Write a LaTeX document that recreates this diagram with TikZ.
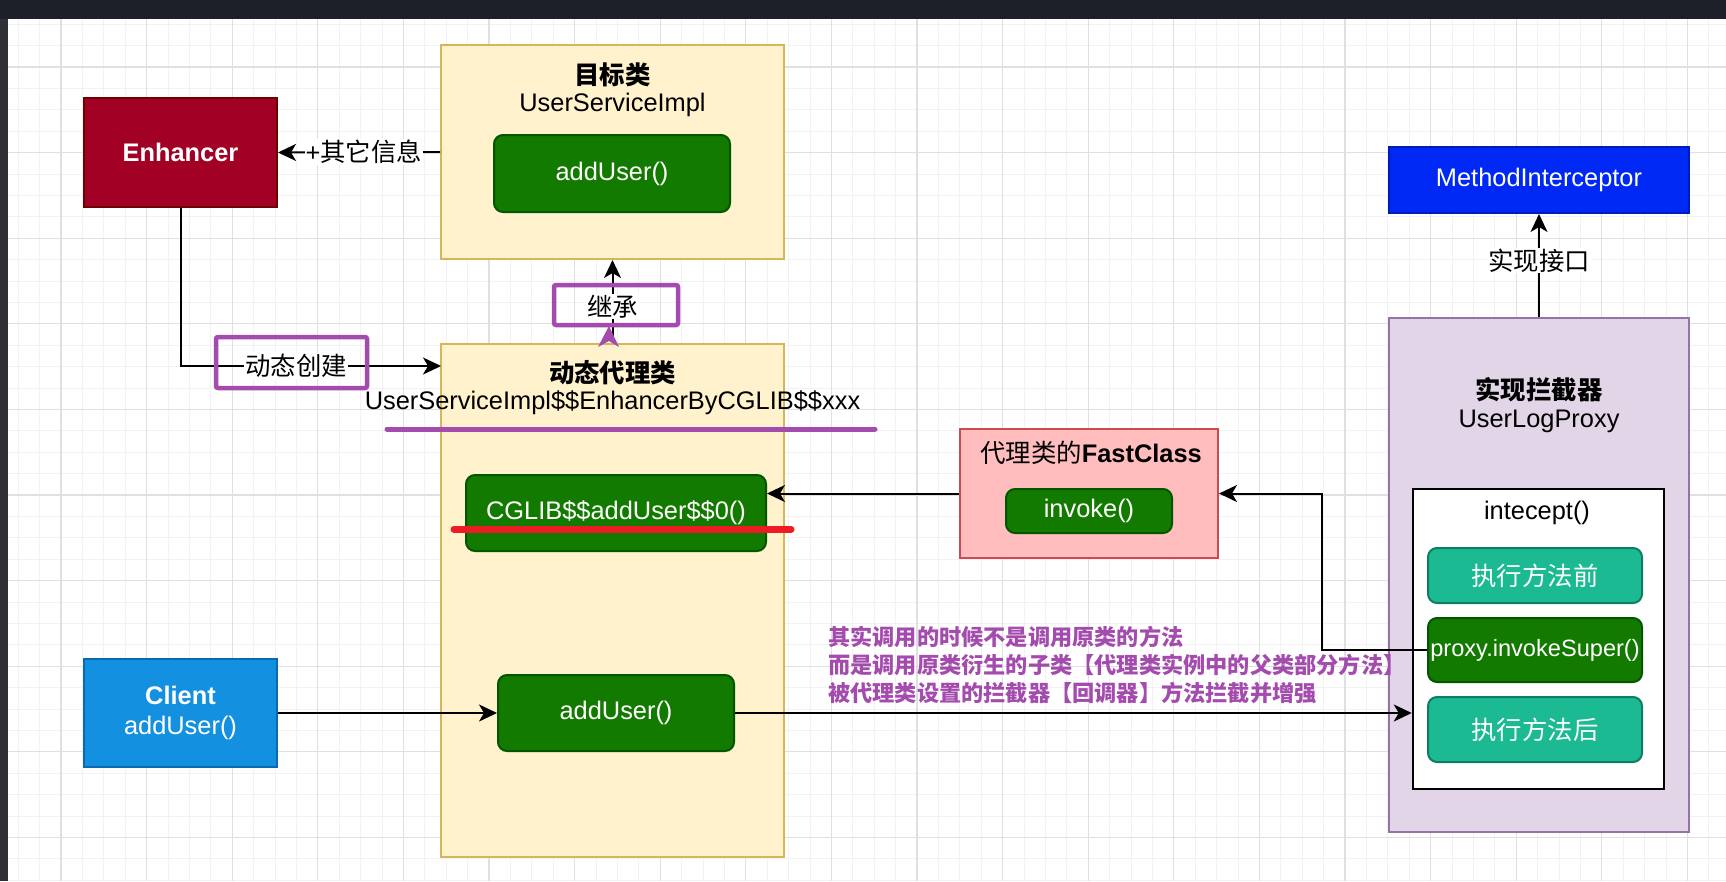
\documentclass[tikz,border=0pt]{standalone}
\usepackage{fontspec}
\setmainfont{Liberation Sans}
\newfontfamily\cjk{Noto Sans CJK SC}
\usepackage{tikz}
\usetikzlibrary{arrows.meta}
\definecolor{minorgrid}{HTML}{F2F2F2}
\definecolor{majorgrid}{HTML}{E0E0E0}
\definecolor{topbar}{HTML}{1D2028}
\definecolor{sidebar}{HTML}{2E3035}
\definecolor{enhfill}{HTML}{A20025}
\definecolor{enhedge}{HTML}{6F0000}
\definecolor{clsfill}{HTML}{FFF2CC}
\definecolor{clsedge}{HTML}{D6B656}
\definecolor{methfill}{HTML}{137A00}
\definecolor{methedge}{HTML}{005700}
\definecolor{fastfill}{HTML}{FFBDBD}
\definecolor{fastedge}{HTML}{CC4A52}
\definecolor{stepfill}{HTML}{1BBA93}
\definecolor{stepedge}{HTML}{0E7D63}
\definecolor{clientfill}{HTML}{1490E0}
\definecolor{clientedge}{HTML}{0A6AAD}
\definecolor{ifacefill}{HTML}{0028F5}
\definecolor{ifaceedge}{HTML}{001DBC}
\definecolor{proxyfill}{HTML}{E1D5E7}
\definecolor{proxyedge}{HTML}{9673A6}
\definecolor{note}{HTML}{A44BAE}
\definecolor{redline}{HTML}{ED1C24}
\tikzset{
  txt/.style={font=\fontsize{25.4}{30}\selectfont, inner sep=0pt},
  minorline/.style={draw=minorgrid, line width=1pt},
  majorline/.style={draw=majorgrid, line width=1.2pt},
  cls/.style={draw=clsedge, fill=clsfill, line width=2pt},
  meth/.style={txt, draw=methedge, fill=methfill, line width=2pt, rounded corners=9pt, text=white},
  stepbox/.style={txt, draw=stepedge, fill=stepfill, line width=2pt, rounded corners=9pt, text=white,
    minimum width=214pt},
  solid box/.style={txt, line width=2pt, text=white, align=center},
  arr/.style={draw=black, line width=2pt, -{Stealth[length=18pt, width=17pt, inset=5pt]}},
  elabel/.style={txt, fill=white, inner sep=1pt},
  notebox/.style={draw=note, line width=4.5pt, rounded corners=2pt},
  notetext/.style={inner sep=0pt, text=note, align=left,
    font=\fontsize{22.2}{28}\selectfont\bfseries\cjk}
}
\begin{document}
\begin{tikzpicture}[x=1pt, y=-1pt]
  \useasboundingbox (0,0) rectangle (1726,881);
  % canvas and grid
  \fill[white] (0,0) rectangle (1726,881);
  \foreach \i in {0,...,79} \draw[minorline] ({18.2+21.4*\i},19) -- ++(0,862);
  \foreach \i in {0,...,40} \draw[minorline] (8,{24.2+21.4*\i}) -- (1726,{24.2+21.4*\i});
  \foreach \i in {0,...,19} \draw[majorline] ({61+85.6*\i},19) -- ++(0,862);
  \foreach \i in {0,...,9} \draw[majorline] (8,{67+85.6*\i}) -- (1726,{67+85.6*\i});
  \fill[topbar] (0,0) rectangle (1726,19);
  \fill[sidebar] (0,19) rectangle (8,881);

  % left side
  \node[solid box, draw=enhedge, fill=enhfill, minimum width=193pt, minimum height=109pt,
    font=\fontsize{25.4}{30}\selectfont\bfseries] (enh) at (180.5,152.5) {Enhancer};
  \node[solid box, draw=clientedge, fill=clientfill, minimum width=193pt, minimum height=108pt] (client)
    at (180.5,713) {\textbf{Client}\\addUser()};

  % target class
  \node[cls, minimum width=343pt, minimum height=214pt] (tgt) at (612.5,152) {};
  \node[txt, font=\fontsize{25.4}{30}\selectfont\bfseries\cjk] (tgthead) at (612.5,75) {目标类};
  \node[txt] (tgtname) at (612.5,105) {UserServiceImpl};
  \node[meth, minimum width=236pt, minimum height=77pt] (tgtadd) at (612,173.5) {addUser()};

  % proxy class
  \node[cls, minimum width=343pt, minimum height=513pt] (dyn) at (612.5,600.5) {};
  \node[txt, font=\fontsize{25.4}{30}\selectfont\bfseries\cjk] (dynhead) at (612.5,373) {动态代理类};
  \node[txt] (dynname) at (612.5,403) {UserServiceImpl\$\$EnhancerByCGLIB\$\$xxx};
  \node[meth, minimum width=300pt, minimum height=76pt] (cglib) at (616,513) {CGLIB\$\$addUser\$\$0()};
  \node[meth, minimum width=236pt, minimum height=76pt] (dynadd) at (616,713) {addUser()};

  % fast class
  \node[draw=fastedge, fill=fastfill, line width=2pt, minimum width=258pt, minimum height=129pt] (fast)
    at (1089,493.5) {};
  \node[txt] (fasthead) at (1091,453) {{\cjk 代理类的}\textbf{FastClass}};
  \node[meth, minimum width=166pt, minimum height=44pt] (invoke) at (1089,511) {invoke()};

  % interceptor
  \node[solid box, draw=ifaceedge, fill=ifacefill, minimum width=300pt, minimum height=66pt] (mi)
    at (1539,180) {MethodInterceptor};
  \node[draw=proxyedge, fill=proxyfill, line width=2pt, minimum width=300pt, minimum height=514pt] (proxy)
    at (1539,575) {};
  \node[txt, font=\fontsize{25.4}{30}\selectfont\bfseries\cjk] (proxyhead) at (1539,390) {实现拦截器};
  \node[txt] (proxyname) at (1539,421) {UserLogProxy};
  \node[draw=black, fill=white, line width=2.5pt, minimum width=251pt, minimum height=300pt] (icpt)
    at (1538.5,639) {};
  \node[txt] (icpthead) at (1537,513) {intecept()};
  \node[stepbox, minimum height=55pt, font=\fontsize{25.4}{30}\selectfont\cjk] (before) at (1535,575.5) {执行方法前};
  \node[meth, minimum width=214pt, minimum height=64pt, font=\fontsize{23.6}{28}\selectfont] (invsup)
    at (1535,650) {proxy.invokeSuper()};
  \node[stepbox, minimum height=65pt, font=\fontsize{25.4}{30}\selectfont\cjk] (after) at (1535,729.5) {执行方法后};

  % connectors
  \coordinate (dynin) at (441,366);
  \coordinate (bend) at (1322,650);
  \draw[arr] (tgt.west) -- node[elabel, pos=0.47] {+{\cjk 其它信息}} (enh.east);
  \draw[arr] (enh.south) |- node[elabel, pos=0.722] {\cjk 动态创建} (dynin);
  \draw[arr] (dyn.north) -- node[elabel, pos=0.435] {\cjk 继承} (tgt.south);
  \draw[arr] (proxy.north) -- node[elabel, pos=0.55] {\cjk 实现接口} (mi.south);
  \draw[arr] (fast.west) -- (fast.west -| cglib.east);
  \draw[arr] (invsup.west) -- (bend) |- (fast.east);
  \draw[arr] (client.east) -- (dynadd.west);
  \draw[arr] (dynadd.east) -- (dynadd.east -| icpt.west);

  % annotations
  \draw[notebox] (216,337) rectangle (367,388);
  \draw[notebox] (554,285) rectangle (678,325);
  \fill[note] (609,326) -- (619,347) -- (609,341) -- (598,347) -- cycle;
  \draw[note, line width=5pt, line cap=round] (387,429) -- (875,429);
  \draw[redline, line width=7pt, line cap=round] (454,529) -- (791,529);
  \node[notetext, anchor=west] (notes) at (828,665)
    {其实调用的时候不是调用原类的方法\\而是调用原类衍生的子类【代理类实例中的父类部分方法】\\被代理类设置的拦截器【回调器】方法拦截并增强};
\end{tikzpicture}
\end{document}
